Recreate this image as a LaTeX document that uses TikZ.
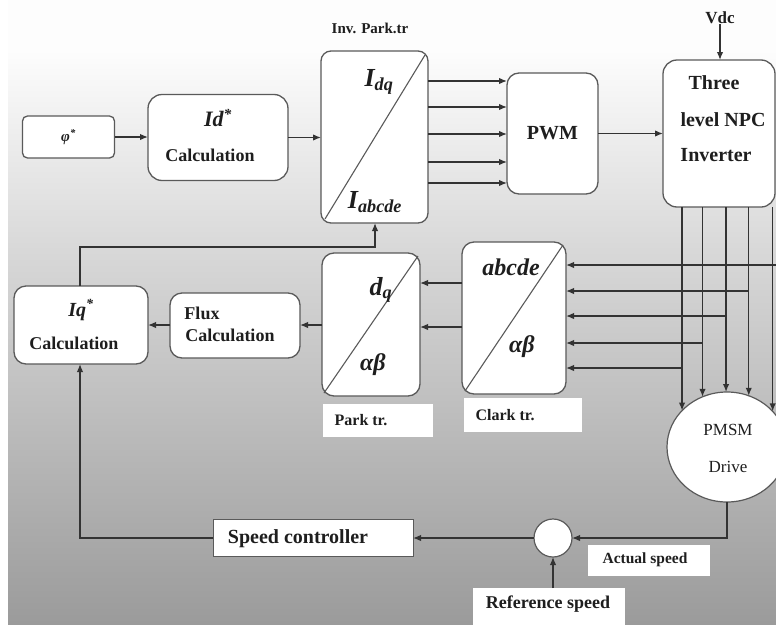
\documentclass[tikz,border=0pt]{standalone}
\usepackage{fontspec}
\setmainfont{Liberation Serif}
\usetikzlibrary{arrows.meta,shapes.geometric,calc}
\definecolor{boxc}{HTML}{5A5A5A}
\definecolor{linec}{HTML}{333333}
\definecolor{txtc}{HTML}{1E1E1E}
\definecolor{bgA}{HTML}{FDFDFD}
\definecolor{bgB}{HTML}{D8D8D8}
\definecolor{bgC}{HTML}{9A9A9A}
\newcommand{\myfs}[1]{\fontsize{#1}{#1}\selectfont}
\begin{document}
\begin{tikzpicture}[x=1pt,y=-1pt,
 blk/.style={draw=boxc, fill=white, line width=1.3pt, rounded corners=12pt, inner sep=0pt, outer sep=0pt},
 wbox/.style={fill=white, draw=none, inner sep=0pt, outer sep=0pt},
 txt/.style={inner sep=0pt, text=txtc, font=\bfseries\myfs{18}},
 conn/.style={draw=linec, line width=1.4pt, -{Latex[length=8pt,width=6.5pt]}},
 wire/.style={draw=linec, line width=1.4pt},
 diag/.style={draw=boxc, line width=1.1pt}]
\useasboundingbox (0,0) rectangle (776,624);
% background
\fill[white] (-2,-2) rectangle (778,630);
\fill[bgA] (8,-2) rectangle (778,50.5);
\shade[top color=bgA, bottom color=bgB] (8,50) rectangle (778,250.5);
\shade[top color=bgB, bottom color=bgC] (8,250) rectangle (778,630);

% top row
\node[blk, rounded corners=5pt, minimum width=92pt, minimum height=42pt] (phi) at (68.5,137) {};
\node[txt, font=\bfseries\itshape\myfs{15}] (phitxt) at (phi) {φ\textsuperscript{*}};

\node[blk, rounded corners=14pt, minimum width=140pt, minimum height=86pt] (idc) at (218,137.5) {};
\node[txt, font=\bfseries\itshape\myfs{22}] (idtxt) at (218,118) {Id\textsuperscript{*}};
\node[txt] (idcalc) at (210,155) {Calculation};

\node[txt, font=\bfseries\myfs{15}] (invlbl) at (370,28) {Inv. Park.tr};
\node[blk, rounded corners=10pt, minimum width=107pt, minimum height=172pt] (invp) at (374.5,137) {};
\draw[diag] ($(invp.south west)+(4,-4)$) -- ($(invp.north east)+(-3,4)$);
\node[txt, font=\bfseries\itshape\myfs{26}] (idq) at (379,82) {I\textsubscript{dq}};
\node[txt, font=\bfseries\itshape\myfs{26}] (iabc) at (375,202) {I\textsubscript{abcde}};

\node[blk, minimum width=91pt, minimum height=121pt] (pwm) at (552.5,133.5) {};
\node[txt, font=\bfseries\myfs{20}] (pwmtxt) at (pwm) {PWM};

\node[blk, rounded corners=14pt, minimum width=112pt, minimum height=147pt] (inv) at (719,133.5) {};
\node[txt, font=\bfseries\myfs{20}] (inv1) at (714,83) {Three};
\node[txt, font=\bfseries\myfs{20}] (inv2) at (723,120) {level NPC};
\node[txt, font=\bfseries\myfs{20}] (inv3) at (716,155) {Inverter};
\node[txt, font=\bfseries\myfs{17}] (vdc) at (720,18) {Vdc};

% lower row
\node[blk, minimum width=134pt, minimum height=78pt] (iqc) at (81,325) {};
\node[txt, font=\bfseries\itshape\myfs{20}] (iqtxt) at (81,310) {Iq\textsuperscript{*}};
\node[txt] (iqcalc) at (74,343) {Calculation};

\node[blk, minimum width=130pt, minimum height=65pt] (flux) at (235,325.5) {};
\node[txt] (flux1) at (202,313) {Flux};
\node[txt] (flux2) at (230,335) {Calculation};

\node[blk, minimum width=98pt, minimum height=143pt] (park) at (371,324.5) {};
\draw[diag] ($(park.south west)+(2,-3)$) -- ($(park.north east)+(-2,3)$);
\node[txt, font=\bfseries\itshape\myfs{26}] (dq) at (381,290) {d\textsubscript{q}};
\node[txt, font=\bfseries\itshape\myfs{24}] (ab1) at (373,365) {αβ};
\node[wbox, minimum width=110pt, minimum height=33pt] (parkl) at (378,420.5) {};
\node[txt, font=\bfseries\myfs{16}] (parkltxt) at (361,420) {Park tr.};

\node[blk, minimum width=104pt, minimum height=152pt] (clark) at (514,318) {};
\draw[diag] ($(clark.south west)+(3,-3)$) -- ($(clark.north east)+(-3,3)$);
\node[txt, font=\bfseries\itshape\myfs{24}] (abcde) at (511,267) {abcde};
\node[txt, font=\bfseries\itshape\myfs{24}] (ab2) at (522,347) {αβ};
\node[wbox, minimum width=118pt, minimum height=34pt] (clarkl) at (523,415) {};
\node[txt, font=\bfseries\myfs{16}] (clarkltxt) at (505,415) {Clark tr.};

\node[ellipse, draw=boxc, fill=white, line width=1.2pt, minimum width=120pt, minimum height=110pt, inner sep=0pt, outer sep=0pt] (pmsm) at (727,447) {};
\node[txt, font=\myfs{17}] (pm1) at (728,430) {PMSM};
\node[txt, font=\myfs{17}] (pm2) at (728,467) {Drive};

\node[circle, draw=boxc, fill=white, line width=1.2pt, minimum size=38pt, inner sep=0pt, outer sep=0pt] (sum) at (553,538) {};
\node[wbox, draw=boxc, line width=0.8pt, minimum width=200pt, minimum height=37pt] (spd) at (313,538) {};
\node[txt, font=\bfseries\myfs{20}] (spdtxt) at (298,539) {Speed controller};
\node[wbox, minimum width=122pt, minimum height=31pt] (act) at (649,560.5) {};
\node[txt, font=\bfseries\myfs{15.5}] (acttxt) at (645,560) {Actual speed};
\node[wbox, minimum width=152pt, minimum height=40pt] (ref) at (549,608) {};
\node[txt, font=\bfseries\myfs{18}] (reftxt) at (548,604) {Reference speed};

% connectors top
\draw[conn] (phi.east) -- (idc.west |- phi.east);
\draw[conn] (idc.east) -- (invp.west |- idc.east);
\foreach \yy in {81,107,134,162,183}
  \draw[conn] (invp.east |- 0,\yy) -- (pwm.west |- 0,\yy);
\draw[conn] (pwm.east |- inv.west) -- (inv.west);
\draw[conn] (vdc.south) -- (vdc.south |- inv.north);

% inverter to PMSM
\foreach \ang in {141,116,91,67,38}
  \draw[conn] (inv.south -| pmsm.\ang) -- (pmsm.\ang);
\coordinate (redge) at (776,265);
\draw[conn] (redge) -- (clark.east |- redge);
\draw[conn] (pmsm.67 |- 0,291) -- (clark.east |- 0,291);
\draw[conn] (pmsm.91 |- 0,316) -- (clark.east |- 0,316);
\draw[conn] (pmsm.116 |- 0,343) -- (clark.east |- 0,343);
\draw[conn] (pmsm.141 |- 0,368) -- (clark.east |- 0,368);

% lower connectors
\draw[conn] (clark.west |- 0,283) -- (park.east |- 0,283);
\draw[conn] (clark.west |- 0,327) -- (park.east |- 0,327);
\draw[conn] (park.west |- 0,325) -- (flux.east |- 0,325);
\draw[conn] (flux.west |- 0,325) -- (iqc.east |- 0,325);
\coordinate (fb1) at (80,247);
\coordinate (fb2) at (375,247);
\draw[conn] (iqc.north -| fb1) -- (fb1) -- (fb2) -- (fb2 |- invp.south);

% speed loop
\draw[conn] (pmsm.south) -- (pmsm.south |- sum.east) -- (sum.east);
\draw[conn] (sum.west) -- (spd.east |- sum.west);
\draw[conn] (spd.west) -- (spd.west -| fb1) -- (iqc.south -| fb1);
\draw[conn] (ref.north -| sum.south) -- (sum.south);
\end{tikzpicture}
\end{document}
